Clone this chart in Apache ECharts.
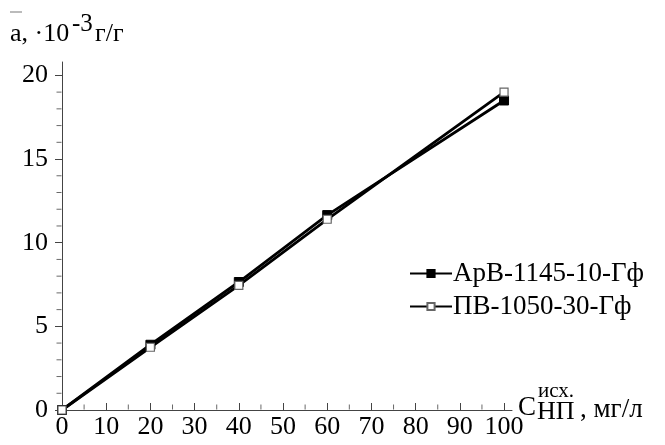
<!DOCTYPE html>
<html><head><meta charset="utf-8">
<script src="https://cdn.jsdelivr.net/npm/echarts@6/dist/echarts.min.js"></script>
<style>html,body{margin:0;padding:0;background:#fff}#c{width:665px;height:445px}</style>
</head><body><div id="c"></div>
<script>
const xValues = [0, 20, 40, 60, 100];
const seriesA = [0, 3.9, 7.65, 11.65, 18.5];
const seriesB = [0, 3.75, 7.45, 11.4, 19.0];
const nameA = 'АрВ-1145-10-Гф';
const nameB = 'ПВ-1050-30-Гф';
const xTicks = [0,10,20,30,40,50,60,70,80,90,100];
const xMinorTicks = [5,15,25,35,45,55,65,75,85,95];
const yTicks = [0,5,10,15,20];
const yMinorTicks = [1,2,3,4,6,7,8,9,11,12,13,14,16,17,18,19];

const F = "'Liberation Serif', 'Times New Roman', serif";
const fnt = s => s + "px 'Liberation Serif', serif";
const chart = echarts.init(document.getElementById('c'));
const pair = (xs, ys) => xs.map((x,i)=>[x, ys[i]]);
chart.setOption({
  animation: false,
  backgroundColor: '#fff',
  textStyle: {fontFamily: F},
  grid: {left: 62, right: 153, top: 62, bottom: 35},
  xAxis: {
    type: 'value', min: 0, max: 101.8,
    axisLine: {show: true, lineStyle: {color: '#444', width: 1}},
    axisTick: {show: true, inside: true, length: 7, lineStyle: {color: '#444'}, customValues: xTicks},
    axisLabel: {customValues: xTicks, color: '#000', fontFamily: F, fontSize: 26, margin: 4},
    splitLine: {show: false}
  },
  yAxis: {
    type: 'value', min: 0, max: 20.8,
    axisLine: {show: true, lineStyle: {color: '#444', width: 1}},
    axisTick: {show: true, length: 7, lineStyle: {color: '#444'}, customValues: yTicks},
    axisLabel: {customValues: yTicks, color: '#000', fontFamily: F, fontSize: 26, margin: 14},
    splitLine: {show: false}
  },
  legend: {
    orient: 'vertical', left: 404, top: 255, itemWidth: 42, itemHeight: 9, itemGap: 6,
    textStyle: {color: '#000', fontFamily: F, fontSize: 27, padding: [0,0,0,-4]},
    data: [nameA, nameB]
  },
  series: [
    {name: nameA, type: 'line', data: pair(xValues, seriesA), symbol: 'rect', symbolSize: 9,
     lineStyle: {color: '#000', width: 2.8}, itemStyle: {color: '#000', borderColor: '#000', borderWidth: 1}, z: 3},
    {name: nameB, type: 'line', data: pair(xValues, seriesB), symbol: 'rect', symbolSize: 8,
     lineStyle: {color: '#000', width: 2.8}, itemStyle: {color: '#fff', borderColor: '#666', borderWidth: 1.2}, z: 4},
    {type: 'scatter', data: yMinorTicks.map(v=>[0, v]), symbol: 'rect', symbolSize: [5,1], symbolOffset: [-3,0],
     itemStyle: {color: '#444'}, silent: true, z: 1},
    {type: 'scatter', data: xMinorTicks.map(v=>[v, 0]), symbol: 'rect', symbolSize: [1,5], symbolOffset: [0,-3],
     itemStyle: {color: '#444'}, silent: true, z: 1}
  ],
  graphic: [
    {type: 'rect', shape: {x: 10, y: 11, width: 12, height: 2}, style: {fill: '#bbb'}},
    {type: 'text', left: 10, top: 21, style: {text: 'a, ·10', font: fnt(26), fill: '#000'}},
    {type: 'text', left: 72, top: 12, style: {text: '-3', font: fnt(25), fill: '#000'}},
    {type: 'text', left: 95, top: 21, style: {text: 'г/г', font: fnt(26), fill: '#000'}},
    {type: 'text', left: 518, top: 394, style: {text: 'C', font: fnt(27), fill: '#000'}},
    {type: 'text', left: 538, top: 381, style: {text: 'исх.', font: fnt(21), fill: '#000'}},
    {type: 'text', left: 537, top: 399, style: {text: 'НП', font: fnt(26), fill: '#000'}},
    {type: 'text', left: 580, top: 396, style: {text: ', мг/л', font: fnt(27), fill: '#000'}}
  ]
});
</script></body></html>
